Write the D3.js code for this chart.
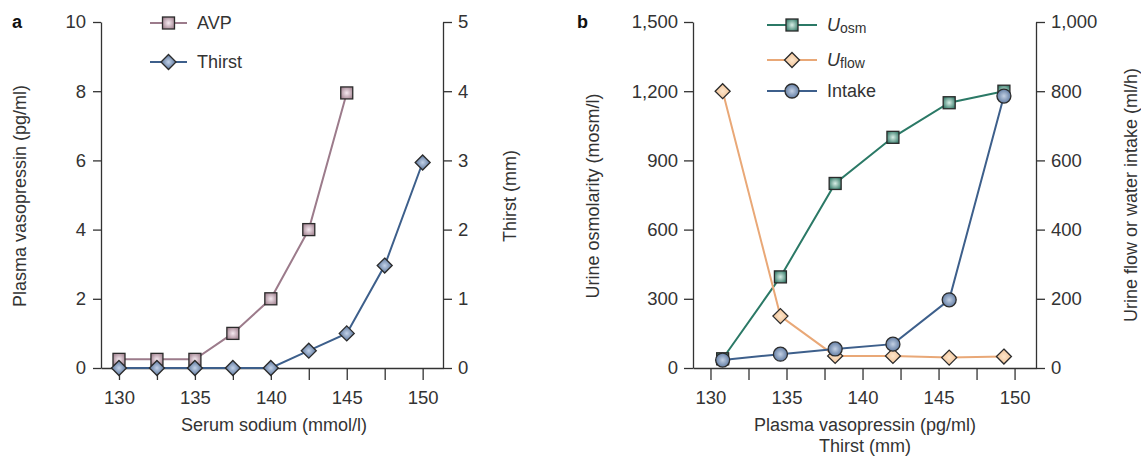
<!DOCTYPE html>
<html>
<head>
<meta charset="utf-8">
<script src="https://cdn.jsdelivr.net/npm/d3@7"></script>
<style>
  body { margin: 0; background: #fff; }
  svg { font-family: "Liberation Sans", Arial, sans-serif; }
</style>
</head>
<body>
<svg width="1141" height="456"></svg>
<script>
// panel a: serum sodium vs AVP / thirst
var sodium = [130, 132.5, 135, 137.5, 140, 142.5, 145, 147.5, 150];
var avp = [0.25, 0.25, 0.25, 1, 2, 4, 7.95];          // pg/ml, first 7 sodium values
var thirst = [0, 0, 0, 0, 0, 0.25, 0.5, 1.48, 2.97];  // mm

// panel b: urine values
var vasoX = [130.8, 134.6, 138.2, 142.0, 145.7, 149.3];
var uosm = [40, 395, 800, 1000, 1150, 1200];   // mosm/l, left axis
var uflow = [800, 150, 35, 35, 30, 33];        // ml/h, right axis
var intake = [23, 40, 55, 69, 197, 786];       // ml/h, right axis

var xTicks = [130, 132.5, 135, 137.5, 140, 142.5, 145, 147.5, 150];
var avpTicks = [0, 2, 4, 6, 8, 10];
var thirstTicks = [0, 1, 2, 3, 4, 5];
var osmTicks = [0, 300, 600, 900, 1200, 1500];
var flowTicks = [0, 200, 400, 600, 800, 1000];

var svg = d3.select("svg");
var ink = "#333";
var top0 = 22, base = 368;

// gradients for the shaded markers
var defs = svg.append("defs");
function grad(id, inner, outer) {
  var g = defs.append("radialGradient").attr("id", id)
    .attr("cx", "50%").attr("cy", "50%").attr("r", "62%");
  g.append("stop").attr("offset", "0%").attr("stop-color", inner);
  g.append("stop").attr("offset", "100%").attr("stop-color", outer);
}
grad("gAvp", "#f6eaf1", "#9f7f8d");
grad("gThirst", "#c3d2e8", "#3f5d88");
grad("gOsm", "#d8eee6", "#2d7563");
grad("gFlow", "#fde6cc", "#eeb887");
grad("gIntake", "#c3d0e3", "#4d6b96");

function marker(g, shape, fill) {
  var m;
  if (shape == "square") {
    m = g.append("rect").attr("x", -6).attr("y", -6).attr("width", 12).attr("height", 12);
  } else if (shape == "diamond") {
    m = g.append("path").attr("d", "M0,-7.5L7.5,0L0,7.5L-7.5,0Z");
  } else {
    m = g.append("circle").attr("r", 7);
  }
  m.attr("fill", "url(#" + fill + ")").attr("stroke", "#2b2b2b").attr("stroke-width", 1.3);
}

function series(xs, ys, x, y, color, shape, fill) {
  var g = svg.append("g");
  var pts = ys.map(function(v, i) { return [x(xs[i]), y(v)]; });
  g.append("path")
    .attr("d", d3.line()(pts))
    .attr("fill", "none")
    .attr("stroke", color)
    .attr("stroke-width", 2);
  g.selectAll("g").data(pts).enter().append("g")
    .attr("transform", function(d) { return "translate(" + d[0] + "," + d[1] + ")"; })
    .each(function() { marker(d3.select(this), shape, fill); });
}

function styleAxis(g, size) {
  g.attr("font-family", null).attr("font-size", null);
  g.selectAll("path, line").attr("stroke", ink).attr("stroke-width", 1.3);
  g.selectAll("text").attr("fill", ink).style("font-size", size + "px");
}

function fmtX(d) { return d % 5 === 0 ? d : ""; }

function legend(x0, x1, y, color, shape, fill, label, sub) {
  var g = svg.append("g");
  g.append("line").attr("x1", x0).attr("x2", x1).attr("y1", y).attr("y2", y)
    .attr("stroke", color).attr("stroke-width", 2);
  var m = g.append("g").attr("transform", "translate(" + (x0 + x1) / 2 + "," + y + ")");
  marker(m, shape, fill);
  var t = g.append("text").attr("x", x1 + 10).attr("y", y).attr("dy", "0.35em")
    .attr("fill", ink).style("font-size", "18px");
  if (sub) {
    t.append("tspan").style("font-style", "italic").text(label);
    t.append("tspan").attr("dy", 2).style("font-size", "14px").text(sub);
  } else {
    t.text(label);
  }
}

function yTitle(x, y, txt) {
  svg.append("text").attr("transform", "translate(" + x + "," + y + ") rotate(-90)")
    .attr("text-anchor", "middle").attr("fill", ink).style("font-size", "18px").text(txt);
}

function xTitle(x, y, txt) {
  svg.append("text").attr("x", x).attr("y", y)
    .attr("text-anchor", "middle").attr("fill", ink).style("font-size", "18px").text(txt);
}

// ---------- panel a ----------
var xa = d3.scaleLinear().domain([128.815, 151.34]).range([101, 443]);
var ya = d3.scaleLinear().domain([0, 10]).range([base, top0]);
var yaR = d3.scaleLinear().domain([0, 5]).range([base, top0]);

svg.append("g").attr("transform", "translate(0," + base + ")")
  .call(d3.axisBottom(xa).tickValues(xTicks).tickFormat(fmtX).tickSize(12).tickSizeOuter(0).tickPadding(11))
  .call(styleAxis, 18.5);
svg.append("g").attr("transform", "translate(101,0)")
  .call(d3.axisLeft(ya).tickValues(avpTicks).tickFormat(d3.format("d")).tickSize(8).tickSizeOuter(0).tickPadding(7))
  .call(styleAxis, 18.5);
svg.append("g").attr("transform", "translate(443,0)")
  .call(d3.axisRight(yaR).tickValues(thirstTicks).tickFormat(d3.format("d")).tickSize(9).tickSizeOuter(0).tickPadding(6))
  .call(styleAxis, 18.5);

series(sodium.slice(0, avp.length), avp, xa, ya, "#9c7b8b", "square", "gAvp");
series(sodium, thirst, xa, yaR, "#3d5f8b", "diamond", "gThirst");

legend(150, 187, 23, "#9c7b8b", "square", "gAvp", "AVP");
legend(150, 187, 62, "#3d5f8b", "diamond", "gThirst", "Thirst");

yTitle(26, 196, "Plasma vasopressin (pg/ml)");
yTitle(516, 196, "Thirst (mm)");
xTitle(274, 431, "Serum sodium (mmol/l)");

svg.append("text").attr("x", 12).attr("y", 28).attr("fill", "#111")
  .style("font-size", "18px").style("font-weight", "bold").text("a");

// ---------- panel b ----------
var xb = d3.scaleLinear().domain([128.85, 151.41]).range([693, 1036]);
var yb = d3.scaleLinear().domain([0, 1500]).range([base, top0]);
var ybR = d3.scaleLinear().domain([0, 1000]).range([base, top0]);

svg.append("g").attr("transform", "translate(0," + base + ")")
  .call(d3.axisBottom(xb).tickValues(xTicks).tickFormat(fmtX).tickSize(12).tickSizeOuter(0).tickPadding(11))
  .call(styleAxis, 18.5);
svg.append("g").attr("transform", "translate(693,0)")
  .call(d3.axisLeft(yb).tickValues(osmTicks).tickFormat(d3.format(",")).tickSize(9).tickSizeOuter(0).tickPadding(6))
  .call(styleAxis, 18.5);
svg.append("g").attr("transform", "translate(1036,0)")
  .call(d3.axisRight(ybR).tickValues(flowTicks).tickFormat(d3.format(",")).tickSize(9).tickSizeOuter(0).tickPadding(6))
  .call(styleAxis, 18.5);

series(vasoX, uosm, xb, yb, "#2b7966", "square", "gOsm");
series(vasoX, uflow, xb, ybR, "#e9a877", "diamond", "gFlow");
series(vasoX, intake, xb, ybR, "#3d5f8b", "circle", "gIntake");

legend(767, 817, 25, "#2b7966", "square", "gOsm", "U", "osm");
legend(767, 817, 60, "#e9a877", "diamond", "gFlow", "U", "flow");
legend(767, 817, 91, "#3d5f8b", "circle", "gIntake", "Intake");

yTitle(599, 196, "Urine osmolarity (mosm/l)");
yTitle(1137, 195, "Urine flow or water intake (ml/h)");
xTitle(865, 431, "Plasma vasopressin (pg/ml)");
xTitle(865, 452, "Thirst (mm)");

svg.append("text").attr("x", 577).attr("y", 28).attr("fill", "#111")
  .style("font-size", "18px").style("font-weight", "bold").text("b");
</script>
</body>
</html>
